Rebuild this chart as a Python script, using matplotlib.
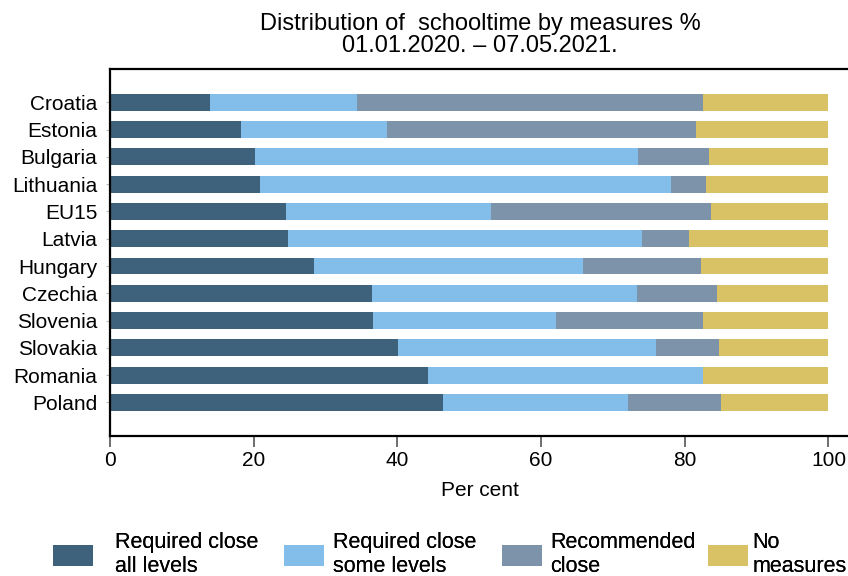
import matplotlib.pyplot as plt
import numpy as np

plt.rcParams['font.family'] = ['Liberation Sans', 'DejaVu Sans']

countries = ['Croatia', 'Estonia', 'Bulgaria', 'Lithuania', 'EU15', 'Latvia',
             'Hungary', 'Czechia', 'Slovenia', 'Slovakia', 'Romania', 'Poland']

# shares in per cent
req_all = [13.9, 18.2, 20.2, 20.9, 24.5, 24.8, 28.4, 36.4, 36.6, 40.1, 44.2, 46.4]
req_some = [20.5, 20.4, 53.3, 57.2, 28.6, 49.2, 37.5, 36.9, 25.5, 35.9, 38.3, 25.7]
recommended = [48.2, 43.0, 9.9, 4.9, 30.6, 6.6, 16.3, 11.2, 20.4, 8.7, 0.0, 13.0]
no_measures = [17.4, 18.4, 16.6, 17.0, 16.3, 19.4, 17.8, 15.5, 17.5, 15.3, 17.5, 14.9]

series = [req_all, req_some, recommended, no_measures]
labels = ['Required close\nall levels', 'Required close\nsome levels',
          'Recommended\nclose', 'No\nmeasures']
colors = ['#3e627b', '#82bee9', '#7c93aa', '#d9c265']

fig = plt.figure(figsize=(8.48, 5.76), dpi=100)
ax = fig.add_axes([110 / 848, 1 - 436 / 576, 740 / 848, 367 / 576])

y = np.arange(len(countries))
left = np.zeros(len(countries))
bars = []
for vals, lab, col in zip(series, labels, colors):
    bars.append(ax.barh(y, vals, left=left, height=0.62, color=col, label=lab))
    left += np.array(vals)

ax.set_ylim(len(countries) - 1 + 1.23, -1.22)
ax.set_xlim(0, 103)
ax.set_yticks(y)
ax.set_yticklabels(countries, fontsize=15)
ax.set_xticks([0, 20, 40, 60, 80, 100])
ax.tick_params(axis='x', labelsize=15, length=8, color='#555555', width=1.2, pad=3)
ax.tick_params(axis='y', length=3, color='#bbbbbb', pad=6)
ax.set_xlabel('Per cent', fontsize=15, labelpad=8)

for s in ['top', 'left', 'bottom']:
    ax.spines[s].set_linewidth(1.6)
ax.spines['right'].set_visible(False)

ax.set_title('Distribution of  schooltime by measures %\n01.01.2020. \u2013 07.05.2021.',
             fontsize=17, linespacing=1.0, pad=12)

# one small legend per entry, spread like the original
leg_x = [53, 284, 502, 708]
leg_pad = [1.05, 0.42, 0.37, 0.2]
for b, lab, lx, tp in zip(bars, labels, leg_x, leg_pad):
    lg = fig.legend([b], [lab], loc='upper left', bbox_to_anchor=(lx / 848, 1 - 532 / 576),
                    frameon=False, fontsize=15.5, handlelength=1.85, handleheight=1.1,
                    handletextpad=tp, borderpad=0, borderaxespad=0)
    fig.add_artist(lg)

fig.savefig('out.png', dpi=100)
